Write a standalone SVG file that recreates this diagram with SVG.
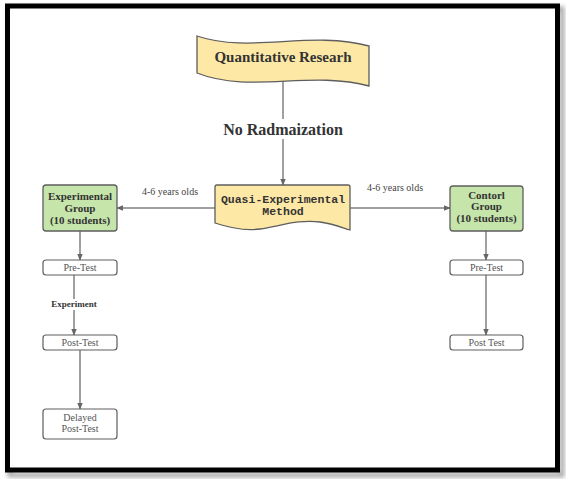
<svg xmlns="http://www.w3.org/2000/svg" width="566" height="479" viewBox="0 0 566 479">
<defs>
<filter id="sh" x="-5%" y="-5%" width="110%" height="110%"><feGaussianBlur stdDeviation="2"/></filter>
<marker id="ah" viewBox="0 0 10 10" refX="9" refY="5" markerWidth="7" markerHeight="7" markerUnits="userSpaceOnUse" orient="auto"><path d="M0,1 L10,5 L0,9 Z" fill="#666"/></marker>
</defs>
<style>
.ln{stroke:#808080;stroke-width:1.5;fill:none}
.yel{fill:#fde8a6;stroke:#5e5e5e;stroke-width:1.3}
.grn{fill:#c6e5ab;stroke:#5e5e5e;stroke-width:1.3}
.box{fill:#fff;stroke:#5e5e5e;stroke-width:1.2}
.b{font-family:"Liberation Serif",serif;font-weight:bold;fill:#333;text-anchor:middle}
.r{font-family:"Liberation Serif",serif;fill:#555;text-anchor:middle;font-size:10px}
.m{font-family:"Liberation Mono",monospace;font-weight:bold;fill:#333;text-anchor:middle;font-size:11.5px}
</style>
<rect x="0" y="0" width="566" height="479" fill="#fff"/>
<rect x="10" y="9" width="552" height="466" fill="none" stroke="#aaa" stroke-width="5" filter="url(#sh)"/>
<rect x="7.5" y="6" width="550" height="464" fill="#fff" stroke="#000" stroke-width="5"/>

<g id="connectors">
<line class="ln" x1="283" y1="80" x2="283" y2="119"/>
<line class="ln" x1="283" y1="139" x2="283" y2="185" marker-end="url(#ah)"/>
<line class="ln" x1="215" y1="208" x2="117" y2="208" marker-end="url(#ah)"/>
<line class="ln" x1="350" y1="208" x2="450" y2="208" marker-end="url(#ah)"/>
<line class="ln" x1="80" y1="231" x2="80" y2="260" marker-end="url(#ah)"/>
<line class="ln" x1="74" y1="275" x2="74" y2="299"/>
<line class="ln" x1="74" y1="310" x2="74" y2="335" marker-end="url(#ah)"/>
<line class="ln" x1="80" y1="350" x2="80" y2="409" marker-end="url(#ah)"/>
<line class="ln" x1="486" y1="231" x2="486" y2="260" marker-end="url(#ah)"/>
<line class="ln" x1="486" y1="275" x2="486" y2="335" marker-end="url(#ah)"/>
<text class="b" x="283" y="135" font-size="16">No Radmaization</text>
<text class="r" x="170" y="195" style="fill:#444">4-6 years olds</text>
<text class="r" x="395" y="191" style="fill:#444">4-6 years olds</text>
<text class="b" x="74" y="307" font-size="9">Experiment</text>
</g>

<g id="quantitative">
<path class="yel" d="M197,36 C250,54 310,30 369,46 L369,86 C310,70 250,94 197,73 Z"/>
<text class="b" x="283" y="62" font-size="15">Quantitative Researh</text>
</g>

<g id="quasi">
<path class="yel" d="M217,185 H348 Q350,185 350,187 V230 C343,228 335,224 320,222 C300,219 280,226 260,229 C245,231 230,228 215,223 V187 Q215,185 217,185 Z"/>
<text class="m" x="283" y="203">Quasi-Experimental</text>
<text class="m" x="283" y="215">Method</text>
</g>

<g id="exp-group">
<rect class="grn" x="43" y="185" width="74" height="46" rx="3"/>
<text class="b" x="80" y="200" font-size="11">Experimental</text>
<text class="b" x="80" y="212" font-size="11">Group</text>
<text class="b" x="80" y="224" font-size="11">(10 students)</text>
</g>

<g id="ctrl-group">
<rect class="grn" x="450" y="186" width="73" height="45" rx="3"/>
<text class="b" x="486.5" y="199" font-size="11">Contorl</text>
<text class="b" x="486.5" y="210" font-size="11">Group</text>
<text class="b" x="486.5" y="222" font-size="11">(10 students)</text>
</g>

<g id="exp-pretest">
<rect class="box" x="43" y="260" width="74" height="15" rx="3"/>
<text class="r" x="80" y="271">Pre-Test</text>
</g>

<g id="exp-posttest">
<rect class="box" x="43" y="335" width="74" height="15" rx="3"/>
<text class="r" x="80" y="346">Post-Test</text>
</g>

<g id="exp-delayed">
<rect class="box" x="43" y="409" width="74" height="30" rx="3"/>
<text class="r" x="80" y="421">Delayed</text>
<text class="r" x="80" y="432">Post-Test</text>
</g>

<g id="ctrl-pretest">
<rect class="box" x="450" y="260" width="73" height="15" rx="3"/>
<text class="r" x="486.5" y="271">Pre-Test</text>
</g>

<g id="ctrl-posttest">
<rect class="box" x="450" y="335" width="73" height="15" rx="3"/>
<text class="r" x="486.5" y="346">Post Test</text>
</g>
</svg>
